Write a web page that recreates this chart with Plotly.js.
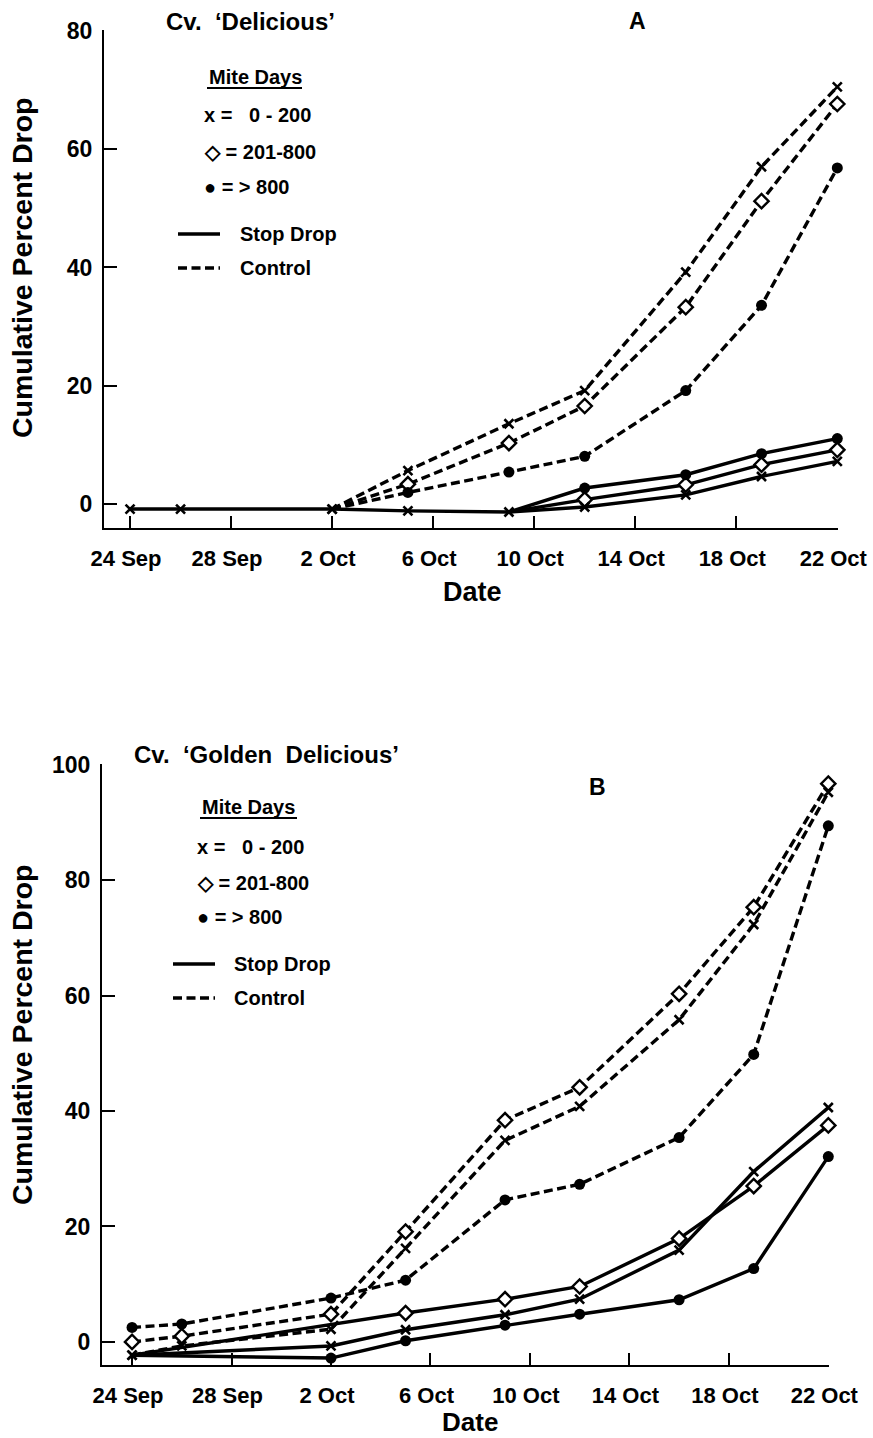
<!DOCTYPE html>
<html><head><meta charset="utf-8">
<script src="https://cdn.plot.ly/plotly-3.0.1.min.js"></script>
<style>html,body{margin:0;padding:0;background:#fff}#chart{width:873px;height:1438px}</style>
</head><body><div id="chart"></div>
<script>
// ---------------- DATA ----------------
const tickDates = ['1984-09-24','1984-09-28','1984-10-02','1984-10-06','1984-10-10','1984-10-14','1984-10-18','1984-10-22'];
const tickLabels = ['24 Sep','28 Sep','2 Oct','6 Oct','10 Oct','14 Oct','18 Oct','22 Oct'];
const yTicksA = [0,20,40,60,80];
const yTicksB = [0,20,40,60,80,100];

// Panel A: Cv. 'Delicious'
const aStopXDates = ['1984-09-24','1984-09-26','1984-10-02','1984-10-05','1984-10-09','1984-10-12','1984-10-16','1984-10-19','1984-10-22'];
const aStopX = [-0.8,-0.8,-0.8,-1.1,-1.3,-0.45,1.6,4.7,7.25];
const aStopLateDates = ['1984-10-09','1984-10-12','1984-10-16','1984-10-19','1984-10-22'];
const aStopD = [-1.3,0.8,3.3,6.7,9.2];
const aStopC = [-1.3,2.75,5.0,8.55,11.1];
const aCtrlDates = ['1984-10-02','1984-10-05','1984-10-09','1984-10-12','1984-10-16','1984-10-19','1984-10-22'];
const aCtrlX = [-0.8,5.7,13.6,19.2,39.2,57.0,70.5];
const aCtrlD = [-0.8,3.4,10.35,16.6,33.3,51.2,67.6];
const aCtrlC = [-0.8,2.0,5.45,8.1,19.2,33.6,56.8];

// Panel B: Cv. 'Golden Delicious'
const bCtrlDates = ['1984-09-24','1984-09-26','1984-10-02','1984-10-05','1984-10-09','1984-10-12','1984-10-16','1984-10-19','1984-10-22'];
const bCtrlX = [-2.3,-0.7,2.2,16.2,34.9,40.8,55.8,72.3,95.2];
const bCtrlD = [0.0,1.0,4.8,19.1,38.4,44.1,60.3,75.3,96.7];
const bCtrlC = [2.5,3.1,7.6,10.7,24.6,27.3,35.4,49.8,89.4];
const bStopXDates = ['1984-09-24','1984-10-02','1984-10-05','1984-10-09','1984-10-12','1984-10-16','1984-10-19','1984-10-22'];
const bStopX = [-2.3,-0.7,2.1,4.7,7.4,15.9,29.5,40.6];
const bStopDDates = ['1984-09-24','1984-10-05','1984-10-09','1984-10-12','1984-10-16','1984-10-19','1984-10-22'];
const bStopD = [-2.3,5.0,7.4,9.6,17.9,27.0,37.5];
const bStopCDates = ['1984-09-24','1984-10-02','1984-10-05','1984-10-09','1984-10-12','1984-10-16','1984-10-19','1984-10-22'];
const bStopC = [-2.3,-2.8,0.2,2.9,4.8,7.3,12.7,32.1];

// ---------------- STYLE ----------------
const W = 873, H = 1438;
const FONT = '"Liberation Sans", Arial, Helvetica, sans-serif';
const fx = p => p / W;
const fy = p => 1 - p / H;
const DASH = '9px,4.5px';

const SYM = {
  x: {symbol: 'x-thin-open', size: 9, color: '#000', line: {color: '#000', width: 2.6}},
  d: {symbol: 'diamond', size: 11, color: '#fff', line: {color: '#000', width: 2.4}},
  c: {symbol: 'circle', size: 11, color: '#000', line: {color: '#000', width: 0}}
};

function trace(xs, ys, xa, ya, kind, dashed, hideFirst) {
  const s = SYM[kind];
  return {
    x: xs, y: ys, xaxis: xa, yaxis: ya, type: 'scatter', mode: 'lines+markers',
    line: {color: '#000', width: 3.4, dash: dashed ? DASH : 'solid'},
    marker: {symbol: s.symbol, color: s.color, opacity: 1, line: s.line,
      size: xs.map((_, i) => (hideFirst && i === 0) ? 0 : s.size)},
    showlegend: false, hoverinfo: 'skip', cliponaxis: false
  };
}

const data = [
  trace(aStopLateDates, aStopD, 'x', 'y', 'd', false, true),
  trace(aStopLateDates, aStopC, 'x', 'y', 'c', false, true),
  trace(aCtrlDates, aCtrlD, 'x', 'y', 'd', true, true),
  trace(aCtrlDates, aCtrlC, 'x', 'y', 'c', true, true),
  trace(aCtrlDates, aCtrlX, 'x', 'y', 'x', true, false),
  trace(aStopXDates, aStopX, 'x', 'y', 'x', false, false),

  trace(bCtrlDates, bCtrlD, 'x2', 'y2', 'd', true, false),
  trace(bCtrlDates, bCtrlC, 'x2', 'y2', 'c', true, false),
  trace(bCtrlDates, bCtrlX, 'x2', 'y2', 'x', true, false),
  trace(bStopDDates, bStopD, 'x2', 'y2', 'd', false, true),
  trace(bStopCDates, bStopC, 'x2', 'y2', 'c', false, true),
  trace(bStopXDates, bStopX, 'x2', 'y2', 'x', false, false)
];

const tickFont = {family: FONT, size: 22, color: '#000', weight: 'bold'};
function xAxis(domain, range, anchor) {
  return {domain, range, anchor, type: 'date', tickmode: 'array', tickvals: tickDates, ticktext: tickLabels,
    ticks: 'inside', ticklen: 12, tickwidth: 2, tickcolor: '#000', showline: true, linewidth: 2, linecolor: '#000',
    showgrid: false, zeroline: false, tickfont: tickFont, ticklabelstandoff: 10, ticklabelshift: -4,
    ticklabeloverflow: 'allow', fixedrange: true};
}
function yAxis(domain, range, anchor, vals) {
  return {domain, range, anchor, tickmode: 'array', tickvals: vals,
    ticks: 'inside', ticklen: 13, tickwidth: 2, tickcolor: '#000', showline: true, linewidth: 2, linecolor: '#000',
    showgrid: false, zeroline: false, tickfont: {family: FONT, size: 23, color: '#000', weight: 'bold'},
    ticklabelstandoff: 5, ticklabeloverflow: 'allow', fixedrange: true};
}

const annotations = [];
const shapes = [];
function txt(text, x, y, size, xanchor, angle) {
  annotations.push({text, xref: 'paper', yref: 'paper', x: fx(x), y: fy(y), xanchor: xanchor || 'left', yanchor: 'middle',
    showarrow: false, textangle: angle || 0, font: {family: FONT, size, color: '#000', weight: 'bold'}});
}
function seg(x0, x1, y, dash, w) {
  shapes.push({type: 'line', xref: 'paper', yref: 'paper', x0: fx(x0), x1: fx(x1), y0: fy(y), y1: fy(y),
    line: {color: '#000', width: w || 3, dash: dash || 'solid'}});
}
const NB = '\u00a0';
function legendBlock(lx, yMite, underlineEnd, yx, yd, yc, lineX0, lineX1, textX, yStop, yCtrl) {
  txt('Mite Days', lx + 5, yMite, 20, 'left');
  seg(lx + 5, underlineEnd, yMite + 11, 'solid', 2);
  txt('x' + NB + '=' + NB + NB + NB + '0 - 200', lx, yx, 20, 'left');
  txt('\u25C7 = 201-800', lx, yd, 20, 'left');
  txt('\u25CF = > 800', lx, yc, 20, 'left');
  seg(lineX0, lineX1, yStop, 'solid', 3.4);
  txt('Stop Drop', textX, yStop, 20, 'left');
  seg(lineX0, lineX1, yCtrl, DASH, 3.4);
  txt('Control', textX, yCtrl, 20, 'left');
}

// Panel A texts
txt('Cv.' + NB + NB + '\u2018Delicious\u2019', 164, 21, 24, 'left');
txt('A', 637, 21, 23, 'center');
legendBlock(202, 77, 302, 115, 152, 187, 178, 220, 238, 234, 268);
txt('Cumulative Percent Drop', 22, 268, 28.5, 'center', -90);
txt('Date', 473, 592, 27, 'center');

// Panel B texts
txt('Cv.' + NB + NB + '\u2018Golden' + NB + NB + 'Delicious\u2019', 132, 755, 24, 'left');
txt('B', 597, 787, 23, 'center');
legendBlock(195, 807, 297, 847, 883, 917, 173, 215, 232, 964, 998);
txt('Cumulative Percent Drop', 22, 1035, 28.5, 'center', -90);
txt('Date', 470, 1422, 26, 'center');

const layout = {
  width: W, height: H, margin: {l: 0, r: 0, t: 0, b: 0},
  paper_bgcolor: '#fff', plot_bgcolor: '#fff', showlegend: false,
  xaxis: xAxis([fx(104), fx(838)], ['1984-09-22 23:15', '1984-10-22 00:40'], 'y'),
  yaxis: yAxis([fy(528), fy(30)], [-4, 80.1], 'x', yTicksA),
  xaxis2: xAxis([fx(102), fx(829)], ['1984-09-22 19:00', '1984-10-22 00:40'], 'y2'),
  yaxis2: yAxis([fy(1365), fy(764)], [-4, 100.1], 'x2', yTicksB),
  annotations, shapes
};

Plotly.newPlot('chart', data, layout, {displayModeBar: false, staticPlot: true});
</script>
</body></html>
